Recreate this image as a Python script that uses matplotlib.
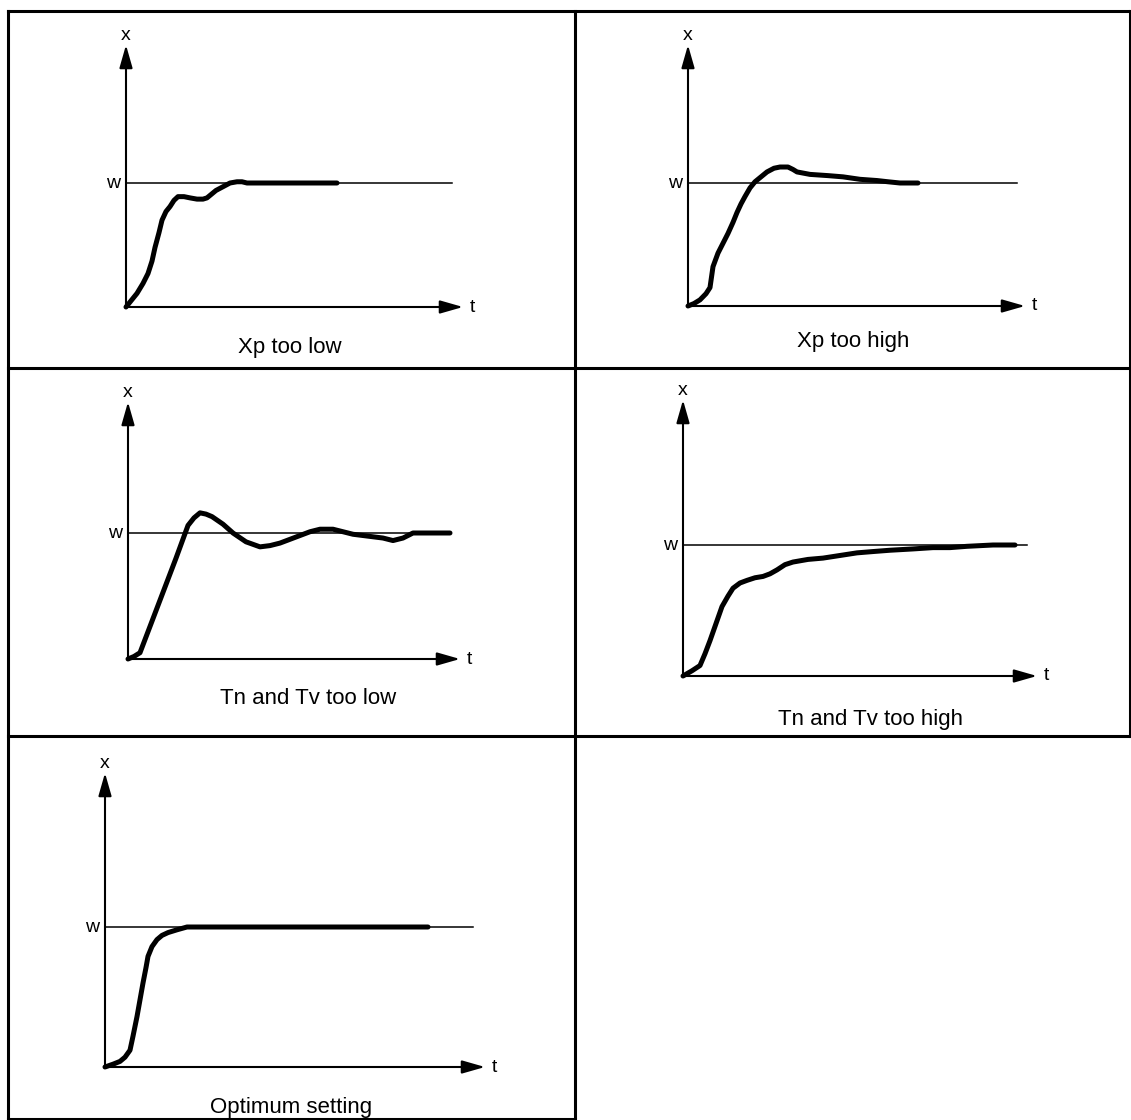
import matplotlib
matplotlib.use("Agg")
import matplotlib.pyplot as plt
from matplotlib.lines import Line2D
from matplotlib.patches import FancyArrowPatch

plt.rcParams['font.family'] = ['Liberation Sans', 'DejaVu Sans']

# ---------------- data (time in arbitrary units, x relative to setpoint w = 1) -------------
captions = ["Xp too low", "Xp too high", "Tn and Tv too low", "Tn and Tv too high", "Optimum setting"]

t1 = [0, 5, 11, 17, 22, 26, 29, 33, 36, 40, 44, 48, 52, 58, 64, 71, 77, 81, 84, 90, 97, 104, 111, 116, 121, 140, 167, 190, 211]
x1 = [0, 0.05, 0.11, 0.19, 0.27, 0.37, 0.48, 0.60, 0.70, 0.77, 0.81, 0.86, 0.89, 0.89, 0.88, 0.87, 0.87, 0.88, 0.90, 0.94, 0.97, 1.0, 1.01, 1.01, 1.0, 1.0, 1.0, 1.0, 1.0]

t2 = [0, 6, 12, 18, 22, 25, 30, 35, 40, 45, 49, 53, 57, 62, 67, 73, 79, 86, 92, 100, 105, 109, 122, 140, 155, 172, 189, 200, 212, 230]
x2 = [0, 0.02, 0.05, 0.10, 0.15, 0.32, 0.43, 0.51, 0.59, 0.68, 0.76, 0.83, 0.89, 0.96, 1.01, 1.05, 1.09, 1.12, 1.13, 1.13, 1.11, 1.09, 1.07, 1.06, 1.05, 1.03, 1.02, 1.01, 1.0, 1.0]

t3 = [0, 6, 12, 24, 36, 48, 60, 66, 72, 78, 84, 95, 105, 118, 132, 142, 152, 162, 172, 182, 192, 205, 215, 225, 235, 245, 255, 265, 275, 285, 300, 322]
x3 = [0, 0.02, 0.05, 0.30, 0.55, 0.80, 1.06, 1.12, 1.16, 1.15, 1.13, 1.07, 1.0, 0.93, 0.89, 0.90, 0.92, 0.95, 0.98, 1.01, 1.03, 1.03, 1.01, 0.99, 0.98, 0.97, 0.96, 0.94, 0.96, 1.0, 1.0, 1.0]

t4 = [0, 9, 17, 22, 27, 33, 39, 45, 50, 57, 64, 72, 80, 87, 94, 102, 110, 125, 140, 157, 174, 190, 207, 230, 250, 267, 284, 310, 332]
x4 = [0, 0.04, 0.08, 0.17, 0.27, 0.40, 0.53, 0.61, 0.67, 0.71, 0.73, 0.75, 0.76, 0.78, 0.81, 0.85, 0.87, 0.89, 0.90, 0.92, 0.94, 0.95, 0.96, 0.97, 0.98, 0.98, 0.99, 1.0, 1.0]

t5 = [0, 8, 15, 20, 25, 28, 32, 35, 38, 41, 43, 47, 52, 57, 63, 72, 82, 120, 200, 280, 323]
x5 = [0, 0.02, 0.04, 0.07, 0.12, 0.22, 0.36, 0.48, 0.60, 0.71, 0.79, 0.86, 0.91, 0.94, 0.96, 0.98, 1.0, 1.0, 1.0, 1.0, 1.0]

series_t = [t1, t2, t3, t4, t5]
series_x = [x1, x2, x3, x4, x5]
w_label, x_label, t_label = "w", "x", "t"

# ---------------- layout (pixels) ----------------
W, H = 1131, 1120
# origin_x, origin_y, px per w, w-line end, x-arrow length, y-arrow length (px)
geom = [
    (126, 307, 124, 326, 337, 262),
    (688, 306, 123, 329, 337, 261),
    (128, 659, 126, 322, 332, 257),
    (683, 676, 131, 344, 354, 276),
    (105, 1067, 140, 368, 380, 294),
]
caption_pos = [(290, 347), (853, 341), (308, 699), (870, 719), (291, 1108)]

fig = plt.figure(figsize=(W / 100, H / 100), dpi=100)
fig.patch.set_facecolor("white")

# background axes in pixel coordinates for frame lines and captions
bg = fig.add_axes([0, 0, 1, 1])
bg.set_xlim(0, W)
bg.set_ylim(H, 0)
bg.set_axis_off()
frame_kw = dict(color="black", lw=2.2, solid_capstyle="projecting")
bg.add_line(Line2D([7.5, 1129.5], [11, 11], **frame_kw))
bg.add_line(Line2D([7.5, 7.5], [11, 1118.5], **frame_kw))
bg.add_line(Line2D([575, 575], [11, 1118.5], **frame_kw))
bg.add_line(Line2D([1129.5, 1129.5], [11, 736], **frame_kw))
bg.add_line(Line2D([7.5, 1131], [368, 368], **frame_kw))
bg.add_line(Line2D([7.5, 1131], [736, 736], **frame_kw))
bg.add_line(Line2D([7.5, 575], [1118.5, 1118.5], **frame_kw))

for (cx, cy), cap in zip(caption_pos, captions):
    bg.text(cx, cy, cap, ha="center", va="center", fontsize=16, color="black")

for (ox, oy, wpx, wend, xlen, ylen), t, x in zip(geom, series_t, series_x):
    ax = fig.add_axes([ox / W, (H - oy) / H, xlen / W, ylen / H])
    ax.set_xlim(0, xlen)
    ax.set_ylim(0, ylen / wpx)
    ax.set_axis_off()
    ymax = ylen / wpx
    # setpoint line
    ax.plot([0, wend], [1, 1], color="black", lw=1.1, clip_on=False)
    # response curve
    ax.plot(t, x, color="black", lw=3.6, solid_joinstyle="round",
            solid_capstyle="round", clip_on=False, zorder=3)
    # axes arrows
    for (x0, y0, x1_, y1_) in [(0, 0, xlen, 0), (0, 0, 0, ymax)]:
        arr = FancyArrowPatch((x0, y0), (x1_, y1_), arrowstyle="-|>,head_length=1.4,head_width=0.4",
                              mutation_scale=10, color="black", lw=1.5, shrinkA=0, shrinkB=0,
                              clip_on=False, zorder=4)
        ax.add_patch(arr)
    ax.text(0, ymax + 10 / wpx, x_label, ha="center", va="center", fontsize=14)
    ax.text(xlen + 9, 0, t_label, ha="center", va="center", fontsize=14)
    ax.text(-13, 1, w_label, ha="center", va="center", fontsize=14)

fig.savefig("out.png", dpi=100, facecolor="white")
